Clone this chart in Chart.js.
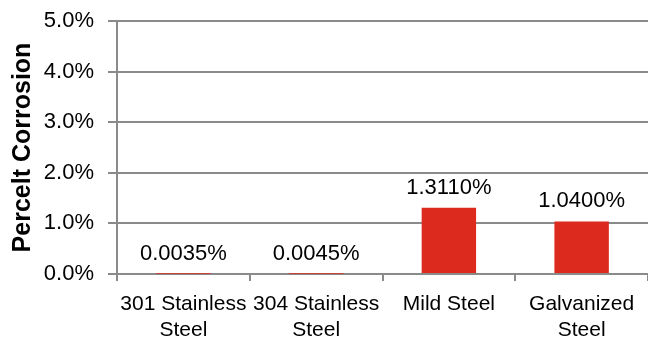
<!DOCTYPE html>
<html>
<head>
<meta charset="utf-8">
<script src="https://cdn.jsdelivr.net/npm/chart.js@4"></script>
<style>
  html, body { margin: 0; padding: 0; background: #fff; }
  #wrap { width: 648px; height: 347px; }
</style>
</head>
<body>
<div id="wrap"><canvas id="chart"></canvas></div>
<script>
const categories = [['301 Stainless', 'Steel'], ['304 Stainless', 'Steel'], 'Mild Steel', ['Galvanized', 'Steel']];
const corrosion = [0.0035, 0.0045, 1.311, 1.04];
const yTicks = [0, 1, 2, 3, 4, 5];

const gridGray = '#8a8a8a';
const font = 'Arial, "Liberation Sans", sans-serif';

// draws the value above each bar
const barLabels = {
  id: 'barLabels',
  afterDatasetsDraw(chart) {
    const ctx = chart.ctx;
    const meta = chart.getDatasetMeta(0);
    ctx.save();
    ctx.font = '22px ' + font;
    ctx.fillStyle = '#000';
    ctx.textAlign = 'center';
    ctx.textBaseline = 'bottom';
    meta.data.forEach((bar, i) => {
      const v = chart.data.datasets[0].data[i];
      ctx.fillText(v.toFixed(4) + '%', bar.x, bar.y - 9);
    });
    ctx.restore();
  }
};

new Chart(document.getElementById('chart'), {
  type: 'bar',
  data: {
    labels: categories,
    datasets: [{
      data: corrosion,
      backgroundColor: '#dc2a1f',
      borderWidth: 0,
      barPercentage: 0.41,
      categoryPercentage: 1
    }]
  },
  options: {
    responsive: true,
    maintainAspectRatio: false,
    animation: false,
    layout: { padding: { top: 21, right: 0, left: 0, bottom: 0 } },
    plugins: {
      legend: { display: false },
      tooltip: { enabled: false }
    },
    scales: {
      x: {
        grid: {
          offset: true,
          drawOnChartArea: false,
          drawTicks: true,
          tickLength: 7,
          color: gridGray,
          lineWidth: 2
        },
        border: { color: gridGray, width: 2 },
        ticks: {
          color: '#000',
          font: { family: font, size: 21, lineHeight: 1.2 },
          padding: 11,
          maxRotation: 0,
          autoSkip: false
        },
        afterFit: (s) => { s.height = 73; }
      },
      y: {
        min: 0,
        max: 5,
        afterBuildTicks: (s) => { s.ticks = yTicks.map(v => ({ value: v })); },
        grid: {
          color: gridGray,
          lineWidth: 2,
          tickLength: 9
        },
        border: { color: gridGray, width: 2 },
        ticks: {
          color: '#000',
          font: { family: font, size: 22 },
          padding: 14,
          callback: (v) => Number(v).toFixed(1) + '%'
        },
        title: {
          display: true,
          text: 'Percelt Corrosion',
          color: '#000',
          font: { family: font, size: 25, weight: 'bold' },
          padding: { top: 8, bottom: 0 }
        },
        afterFit: (s) => { s.width = 117; s.paddingTop = 0; s.paddingBottom = 0; }
      }
    }
  },
  plugins: [barLabels]
});
</script>
</body>
</html>
